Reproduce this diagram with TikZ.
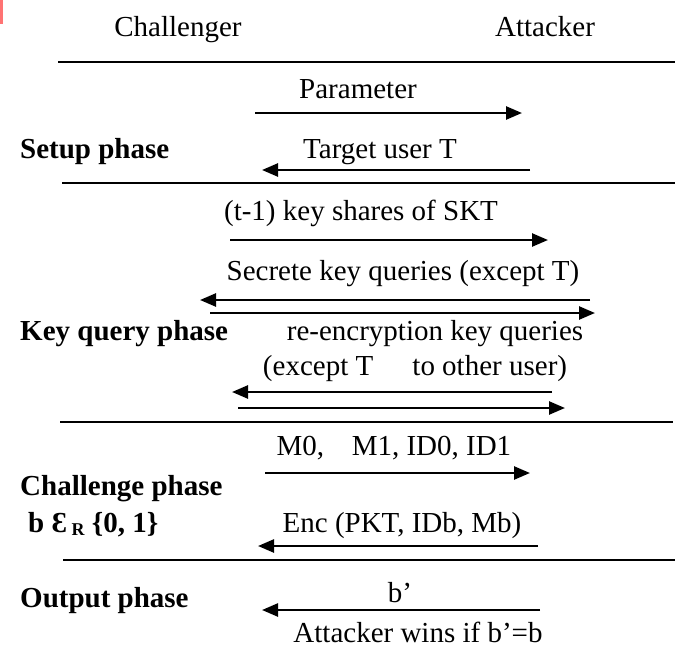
\documentclass[tikz,border=0pt]{standalone}
\usepackage{fontspec}
\setmainfont{Liberation Serif}
\usetikzlibrary{arrows.meta,positioning}

\begin{document}
\begin{tikzpicture}[x=1pt,y=-1pt,>={Triangle[length=16pt,width=13pt]},
  every node/.style={font=\fontsize{29}{31}\selectfont,inner sep=0pt},
  msg/.style={->,line width=2.5pt},
  sep/.style={line width=2.2pt},
  phase/.style={anchor=base west,font=\fontsize{29}{31}\selectfont\bfseries},
  lbl/.style={anchor=base}]
\useasboundingbox (0,0) rectangle (681,651);
\fill[red!55!white] (0,0) rectangle (2.5,24);
% parties
\node[lbl] (chal) at (178,36) {Challenger};
\node[lbl] (att) at (545,36) {Attacker};
% separators
\foreach \y/\a/\b in {62/58/675,183/62/675,422/60/673,560/63/675}
  \draw[sep] (\a,\y) -- (\b,\y);
% setup phase
\node[phase] (setup) at (20,158) {Setup phase};
\node[lbl] (param) at (358,98) {Parameter};
\node[lbl] (target) at (380,158) {Target user T};
\coordinate (s1a) at (255,113); \coordinate (s1b) at (522,113);
\coordinate (s2a) at (530,170); \coordinate (s2b) at (262,170);
\draw[msg] (s1a) -- (s1b);
\draw[msg] (s2a) -- (s2b);
% key query phase
\node[phase] (keyq) at (20,340) {Key query phase};
\node[lbl] (shares) at (361,220) {(t-1) key shares of SKT};
\node[lbl] (secret) at (403,280) {Secrete key queries (except T)};
\node[lbl] (reenc) at (435,340) {re-encryption key queries};
\node[lbl] (other) at (415,375) {(except T\hspace{1.1em} to other user)};
\coordinate (k1a) at (230,240); \coordinate (k1b) at (548,240);
\coordinate (k2a) at (590,300); \coordinate (k2b) at (200,300);
\coordinate (k3a) at (210,313); \coordinate (k3b) at (595,313);
\coordinate (k4a) at (552,392); \coordinate (k4b) at (232,392);
\coordinate (k5a) at (238,408); \coordinate (k5b) at (565,408);
\draw[msg] (k1a) -- (k1b);
\draw[msg] (k2a) -- (k2b);
\draw[msg] (k3a) -- (k3b);
\draw[msg] (k4a) -- (k4b);
\draw[msg] (k5a) -- (k5b);
% challenge phase
\node[phase] (chall) at (20,495) {Challenge phase};
\node[phase] (bit) at (28,532) {b Ɛ\,{\fontsize{18}{20}\selectfont\raisebox{-3pt}{R}} \{0, 1\}};
\node[lbl] (msgs) at (394,455) {M0,\hspace{0.7em} M1, ID0, ID1};
\node[lbl] (enc) at (402,532) {Enc (PKT, IDb, Mb)};
\coordinate (c1a) at (265,473); \coordinate (c1b) at (530,473);
\coordinate (c2a) at (538,546); \coordinate (c2b) at (258,546);
\draw[msg] (c1a) -- (c1b);
\draw[msg] (c2a) -- (c2b);
% output phase
\node[phase] (out) at (20,607) {Output phase};
\node[lbl] (guess) at (400,602) {b’};
\node[lbl] (wins) at (418,642) {Attacker wins if b’=b};
\coordinate (o1a) at (540,610); \coordinate (o1b) at (262,610);
\draw[msg] (o1a) -- (o1b);
\end{tikzpicture}
\end{document}
